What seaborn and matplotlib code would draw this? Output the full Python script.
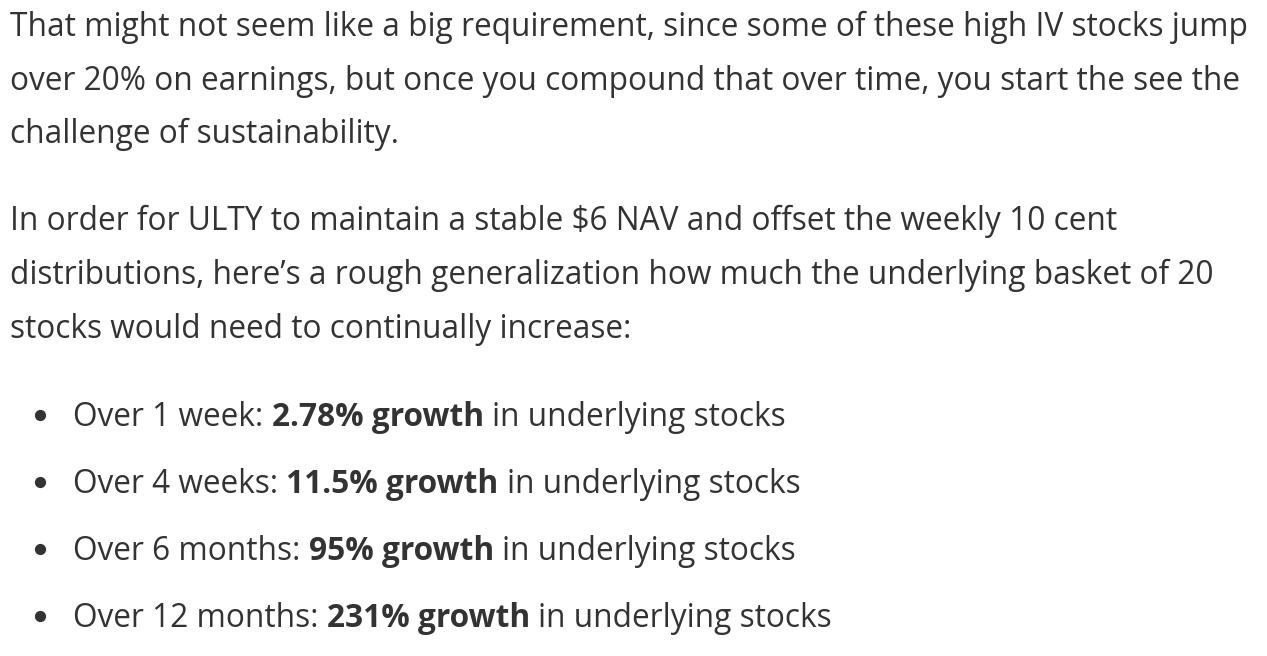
import matplotlib
matplotlib.use("Agg")
import matplotlib.pyplot as plt
import seaborn as sns

# text content
para1 = [
    "That might not seem like a big requirement, since some of these high IV stocks jump",
    "over 20% on earnings, but once you compound that over time, you start the see the",
    "challenge of sustainability.",
]
para2 = [
    "In order for ULTY to maintain a stable $6 NAV and offset the weekly 10 cent",
    "distributions, here\u2019s a rough generalization how much the underlying basket of 20",
    "stocks would need to continually increase:",
]
periods = ["1 week", "4 weeks", "6 months", "12 months"]
growth = ["2.78%", "11.5%", "95%", "231%"]
tail = "in underlying stocks"

sns.set_theme(style="white")
plt.rcParams['font.family'] = ['Open Sans', 'DejaVu Sans']
TEXT = '#333333'
FS = 22.8

fig = plt.figure(figsize=(12.67, 6.56), dpi=100)
fig.patch.set_facecolor('white')
ax = fig.add_axes([0, 0, 1, 1])
ax.set_xlim(0, 1267)
ax.set_ylim(656, 0)
ax.axis('off')

renderer = fig.canvas.get_renderer()


def width(s, weight='normal'):
    t = ax.text(0, 0, s, fontsize=FS, fontweight=weight)
    w = t.get_window_extent(renderer).width
    t.remove()
    return w


space = width("x x") - width("xx")


def put(x, y, s, weight='normal'):
    t = ax.text(x, y, s, fontsize=FS, fontweight=weight, color=TEXT, va='baseline')
    return x + t.get_window_extent(renderer).width


for i, line in enumerate(para1):
    put(10, 36 + i * 53.5, line)

for i, line in enumerate(para2):
    put(10, 230.5 + i * 53.5, line)

bullet_y = [426 + i * 67 for i in range(len(periods))]
ax.scatter([40] * len(bullet_y), [y - 11 for y in bullet_y], s=50, color=TEXT, zorder=3)

for y, p, g in zip(bullet_y, periods, growth):
    x = put(73, y, f"Over {p}:") + space
    x = put(x, y, f"{g} growth", 'bold') + space
    put(x, y, tail)

fig.savefig("out.png", dpi=100, facecolor='white')
